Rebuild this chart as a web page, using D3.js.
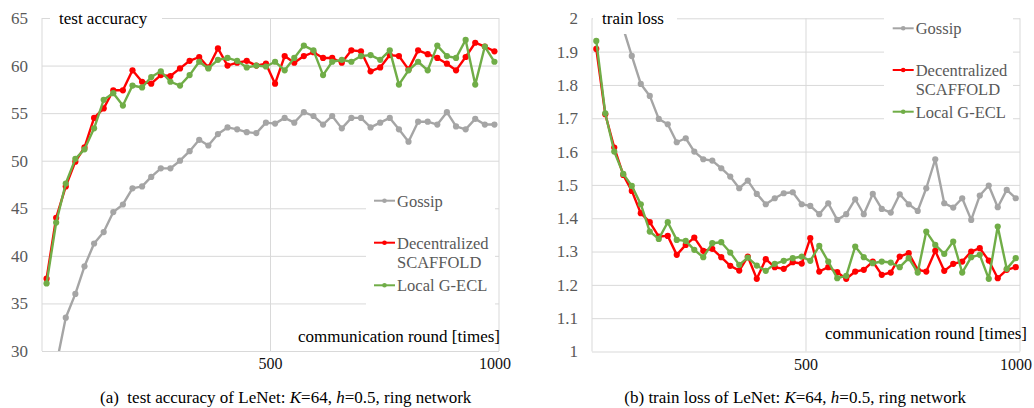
<!DOCTYPE html>
<html>
<head>
<meta charset="utf-8">
<script src="https://cdn.jsdelivr.net/npm/d3@7"></script>
<style>
  body { margin: 0; background: #fff; }
  svg text { font-family: "Liberation Serif", "Times New Roman", serif; }
</style>
</head>
<body>
<div id="chart"></div>
<script>
// communication rounds at which the runs were logged
var rounds = [10, 31, 52, 73, 93, 114, 135, 156, 177, 198, 219, 239, 260, 281, 302, 323,
  344, 364, 385, 406, 427, 448, 469, 490, 510, 531, 552, 573, 594, 615, 635, 656,
  677, 698, 719, 740, 761, 781, 802, 823, 844, 865, 886, 906, 927, 948, 969, 990];

// (a) test accuracy
var accGossip = [22, 28.5, 33.5, 36.0, 38.9, 41.3, 42.5, 44.6, 45.4, 47.1, 47.3, 48.3,
  49.2, 49.2, 50.0, 51.0, 52.2, 51.6, 52.8, 53.5, 53.3, 53.0, 52.9, 54.0,
  53.9, 54.5, 54.0, 55.1, 54.7, 53.8, 54.7, 53.4, 54.5, 54.5, 53.5, 54.0,
  54.5, 53.3, 52.0, 54.1, 54.1, 53.8, 55.1, 53.6, 53.3, 54.4, 53.8, 53.8];
var accScaffold = [37.6, 44.0, 47.3, 49.9, 51.4, 54.5, 55.5, 57.4, 57.4, 59.5, 58.3, 58.1,
  59.0, 58.9, 59.7, 60.5, 60.9, 59.8, 61.8, 60.0, 60.3, 60.5, 60.0, 60.2,
  58.1, 61.0, 60.3, 61.0, 61.4, 60.8, 60.8, 60.3, 61.6, 61.5, 59.4, 59.8,
  61.1, 61.0, 59.6, 61.6, 61.2, 60.8, 60.2, 59.5, 60.9, 62.4, 62.0, 61.5];
var accEcl = [37.1, 43.5, 47.6, 50.2, 51.2, 53.4, 56.4, 57.1, 55.8, 57.9, 57.7, 58.8,
  59.4, 58.3, 57.9, 59.0, 60.4, 59.7, 60.6, 60.8, 60.5, 59.8, 60.0, 59.9,
  60.4, 59.5, 60.8, 62.1, 61.6, 59.0, 60.4, 60.6, 60.4, 61.0, 61.1, 60.6,
  61.6, 58.0, 59.5, 60.4, 59.5, 62.1, 61.0, 60.8, 62.7, 58.0, 62.0, 60.4];

// (b) train loss
var lossGossip = [2.3, 2.15, 2.05, 1.97, 1.887, 1.803, 1.767, 1.698, 1.682, 1.628, 1.64, 1.6,
  1.577, 1.573, 1.55, 1.525, 1.49, 1.513, 1.473, 1.442, 1.46, 1.475, 1.478, 1.442,
  1.437, 1.412, 1.445, 1.395, 1.412, 1.457, 1.412, 1.473, 1.428, 1.417, 1.472, 1.442,
  1.422, 1.49, 1.577, 1.445, 1.432, 1.46, 1.395, 1.468, 1.498, 1.433, 1.485, 1.46];
var lossScaffold = [1.908, 1.712, 1.612, 1.53, 1.482, 1.415, 1.388, 1.345, 1.347, 1.29, 1.32, 1.342,
  1.302, 1.308, 1.283, 1.257, 1.243, 1.285, 1.218, 1.277, 1.253, 1.248, 1.268, 1.264,
  1.34, 1.24, 1.253, 1.238, 1.218, 1.24, 1.245, 1.27, 1.23, 1.237, 1.285, 1.295,
  1.245, 1.24, 1.302, 1.242, 1.263, 1.27, 1.3, 1.31, 1.273, 1.22, 1.245, 1.253];
var lossEcl = [1.932, 1.715, 1.6, 1.533, 1.497, 1.442, 1.36, 1.338, 1.388, 1.335, 1.332, 1.305,
  1.283, 1.325, 1.328, 1.297, 1.26, 1.282, 1.258, 1.242, 1.263, 1.272, 1.28, 1.285,
  1.272, 1.317, 1.27, 1.22, 1.227, 1.315, 1.283, 1.265, 1.27, 1.267, 1.253, 1.28,
  1.237, 1.36, 1.32, 1.293, 1.33, 1.237, 1.283, 1.29, 1.218, 1.375, 1.248, 1.28];

var accTicks = [30, 35, 40, 45, 50, 55, 60, 65];
var lossTicks = [1, 1.1, 1.2, 1.3, 1.4, 1.5, 1.6, 1.7, 1.8, 1.9, 2];
var roundGrid = [0, 500, 1000];
var roundLabels = [500, 1000];
var seriesNames = ["Gossip", "Decentralized|SCAFFOLD", "Local G-ECL"];
var seriesColors = ["#a5a5a5", "#ff0000", "#70ad47"];

var serif = "'Liberation Serif', 'Times New Roman', serif";

var svg = d3.select("#chart")
  .append("svg")
  .attr("width", 1034)
  .attr("height", 408)
  .style("font-family", serif);

var gridColor = "#d9d9d9";

function drawPanel(p) {
  var x = d3.scaleLinear().domain([0, 1000]).range([p.left, p.right]);
  var y = d3.scaleLinear().domain(p.yDomain).range([p.bottom, p.top]);
  var g = svg.append("g");

  // horizontal grid + y labels
  g.append("g")
    .attr("transform", "translate(" + p.left + ",0)")
    .call(d3.axisLeft(y).tickValues(p.yTicks).tickSize(-(p.right - p.left)).tickPadding(14)
      .tickFormat(function (d) { return +d.toFixed(1); }))
    .call(function (a) {
      a.attr("font-family", null).attr("font-size", null);
      a.select(".domain").remove();
      a.selectAll("line").attr("stroke", gridColor);
      a.selectAll("text").attr("fill", "#595959").style("font-size", "17px")
        .style("font-family", serif);
    });

  // vertical grid
  g.selectAll(".vgrid")
    .data(roundGrid)
    .enter()
    .append("line")
    .attr("x1", function (d) { return x(d); })
    .attr("x2", function (d) { return x(d); })
    .attr("y1", p.top)
    .attr("y2", p.bottom)
    .attr("stroke", gridColor);

  // x labels ("1000" sits a little left of its grid line, as in the original)
  g.selectAll(".xlab")
    .data(roundLabels)
    .enter()
    .append("text")
    .attr("x", function (d) { return d === 1000 ? x(d) - 4 : x(d); })
    .attr("y", p.bottom + 18)
    .attr("text-anchor", "middle")
    .style("font-size", "16px")
    .attr("fill", "#111")
    .text(function (d) { return d; });

  var clipId = "clip" + p.id;
  svg.append("clipPath").attr("id", clipId)
    .append("rect")
    .attr("x", p.left).attr("y", p.top)
    .attr("width", p.right - p.left).attr("height", p.bottom - p.top);

  var line = d3.line()
    .x(function (d) { return x(d[0]); })
    .y(function (d) { return y(d[1]); });

  var lines = g.append("g").attr("clip-path", "url(#" + clipId + ")");
  p.series.forEach(function (vals, k) {
    var pts = rounds.map(function (r, i) { return [r, vals[i]]; });
    lines.append("path")
      .datum(pts)
      .attr("d", line)
      .attr("fill", "none")
      .attr("stroke", seriesColors[k])
      .attr("stroke-width", 2.4)
      .attr("stroke-linejoin", "round");
    lines.selectAll(".pt" + k)
      .data(pts)
      .enter()
      .append("circle")
      .attr("cx", function (d) { return x(d[0]); })
      .attr("cy", function (d) { return y(d[1]); })
      .attr("r", 3.1)
      .attr("fill", seriesColors[k]);
  });

  // title box
  g.append("rect")
    .attr("x", p.titleBox[0]).attr("y", 4)
    .attr("width", p.titleBox[1] - p.titleBox[0]).attr("height", 30)
    .attr("fill", "#fff");
  g.append("text")
    .attr("x", p.titleBox[0] + 9)
    .attr("y", 24)
    .style("font-size", "17px")
    .attr("fill", "#000")
    .text(p.title);

  g.append("text")
    .attr("x", p.xTitleEnd)
    .attr("y", p.xTitleY)
    .attr("text-anchor", "end")
    .style("font-size", "17px")
    .attr("fill", "#000")
    .text("communication round [times]");

  // legend
  var lg = g.append("g");
  lg.append("rect")
    .attr("x", p.legend.x0).attr("y", p.legend.y0)
    .attr("width", p.legend.x1 - p.legend.x0)
    .attr("height", p.legend.y1 - p.legend.y0)
    .attr("fill", "#fff");
  seriesNames.forEach(function (name, k) {
    var cy = p.legend.rows[k];
    lg.append("line")
      .attr("x1", p.legend.lx).attr("x2", p.legend.lx + 21)
      .attr("y1", cy).attr("y2", cy)
      .attr("stroke", seriesColors[k]).attr("stroke-width", 2);
    lg.append("circle")
      .attr("cx", p.legend.lx + 10.5).attr("cy", cy).attr("r", 2.3)
      .attr("fill", seriesColors[k]);
    name.split("|").forEach(function (part, j) {
      lg.append("text")
        .attr("x", p.legend.lx + 23)
        .attr("y", cy + 6 + j * 19)
        .style("font-size", "16.5px")
        .attr("fill", "#595959")
        .text(part);
    });
  });
}

drawPanel({
  id: "a", left: 42, right: 499, top: 18, bottom: 351,
  yDomain: [30, 65], yTicks: accTicks,
  series: [accGossip, accScaffold, accEcl],
  title: "test accuracy", titleBox: [50, 162],
  xTitleEnd: 500, xTitleY: 342,
  legend: { x0: 366, x1: 495, y0: 183, y1: 306, lx: 374, rows: [200.7, 242.7, 285.3] }
});

drawPanel({
  id: "b", left: 592, right: 1020, top: 18.3, bottom: 351.5,
  yDomain: [1, 2], yTicks: lossTicks,
  series: [lossGossip, lossScaffold, lossEcl],
  title: "train loss", titleBox: [593, 677],
  xTitleEnd: 1027, xTitleY: 339,
  legend: { x0: 884, x1: 1013, y0: 12, y1: 125, lx: 892.7, rows: [28.3, 70, 111.7] }
});

// sub-captions
var cap = svg.append("g").style("font-size", "17px").attr("fill", "#000");
var capA = cap.append("text").attr("x", 100).attr("y", 403).attr("xml:space", "preserve");
capA.append("tspan").text("(a)  test accuracy of LeNet: ");
capA.append("tspan").style("font-style", "italic").text("K");
capA.append("tspan").text("=64, ");
capA.append("tspan").style("font-style", "italic").text("h");
capA.append("tspan").text("=0.5, ring network");
var capB = cap.append("text").attr("x", 966).attr("y", 403).attr("text-anchor", "end");
capB.append("tspan").text("(b) train loss of LeNet: ");
capB.append("tspan").style("font-style", "italic").text("K");
capB.append("tspan").text("=64, ");
capB.append("tspan").style("font-style", "italic").text("h");
capB.append("tspan").text("=0.5, ring network");
</script>
</body>
</html>
